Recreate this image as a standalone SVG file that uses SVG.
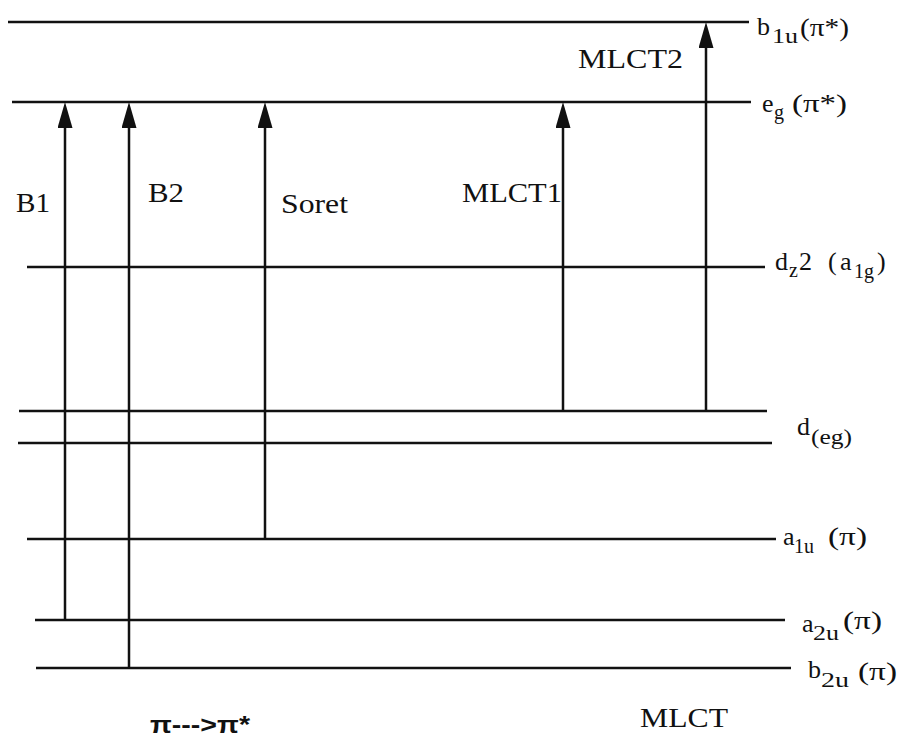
<svg xmlns="http://www.w3.org/2000/svg" width="901" height="740" viewBox="0 0 901 740">
<style>
.lvl{stroke:#111;stroke-width:2.7;fill:none}
.arr{stroke:#111;stroke-width:2.5;fill:none;marker-end:url(#ah)}
</style>
<defs>
<marker id="ah" viewBox="0 0 26 15" refX="10" refY="7.5" markerWidth="26" markerHeight="15" markerUnits="userSpaceOnUse" orient="auto">
<path d="M0,0 L26,7.5 L0,15 Z" fill="#111"/>
</marker>
</defs>
<rect width="901" height="740" fill="#fff"/>
<g font-family="Liberation Serif, Times New Roman, serif" fill="#111" font-size="26">
<g id="b1u">
<line class="lvl" x1="8" y1="22" x2="749" y2="22"/>
<text><tspan x="757" y="35">b</tspan><tspan font-size="20" x="772" y="43" textLength="26" lengthAdjust="spacingAndGlyphs">1u</tspan><tspan x="800" y="36" textLength="49" lengthAdjust="spacingAndGlyphs">(π*)</tspan></text>
</g>
<g id="eg">
<line class="lvl" x1="12" y1="102" x2="751" y2="102"/>
<text><tspan x="762" y="112">e</tspan><tspan font-size="20" x="774" y="119">g</tspan><tspan x="792" y="112" textLength="55" lengthAdjust="spacingAndGlyphs">(π*)</tspan></text>
</g>
<g id="dz2">
<line class="lvl" x1="27" y1="267" x2="765" y2="267"/>
<text><tspan x="775" y="270">d</tspan><tspan font-size="20" x="789" y="277">z</tspan><tspan x="799" y="270">2</tspan><tspan x="828" y="270">(</tspan><tspan x="840" y="270">a</tspan><tspan font-size="20" x="854" y="278" textLength="20" lengthAdjust="spacingAndGlyphs">1g</tspan><tspan x="877" y="270">)</tspan></text>
</g>
<g id="deg">
<line class="lvl" x1="19" y1="411" x2="767" y2="411"/>
<line class="lvl" x1="18" y1="443" x2="772" y2="443"/>
<text><tspan x="797" y="435">d</tspan><tspan font-size="20" x="811" y="444" textLength="41" lengthAdjust="spacingAndGlyphs">(eg)</tspan></text>
</g>
<g id="a1u">
<line class="lvl" x1="27" y1="539" x2="776" y2="539"/>
<text><tspan x="783" y="545">a</tspan><tspan font-size="20" x="794" y="553" textLength="20" lengthAdjust="spacingAndGlyphs">1u</tspan><tspan x="828" y="545" textLength="39" lengthAdjust="spacingAndGlyphs">(π)</tspan></text>
</g>
<g id="a2u">
<line class="lvl" x1="35" y1="620" x2="785" y2="620"/>
<text><tspan x="802" y="632">a</tspan><tspan font-size="20" x="813" y="640" textLength="26" lengthAdjust="spacingAndGlyphs">2u</tspan><tspan x="843" y="629" textLength="39" lengthAdjust="spacingAndGlyphs">(π)</tspan></text>
</g>
<g id="b2u">
<line class="lvl" x1="36" y1="668" x2="791" y2="668"/>
<text><tspan x="808" y="678">b</tspan><tspan font-size="20" x="821" y="687" textLength="28" lengthAdjust="spacingAndGlyphs">2u</tspan><tspan x="858" y="680" textLength="39" lengthAdjust="spacingAndGlyphs">(π)</tspan></text>
</g>

<g id="connectors">
<line class="arr" x1="65" y1="620" x2="65" y2="118"/>
<line class="arr" x1="129" y1="668" x2="129" y2="118"/>
<line class="arr" x1="265" y1="539" x2="265" y2="118"/>
<line class="arr" x1="563" y1="411" x2="563" y2="118"/>
<line class="arr" x1="706" y1="411" x2="706" y2="38"/>
</g>

<g id="labels" font-size="28">
<text x="16" y="212" textLength="34" lengthAdjust="spacingAndGlyphs">B1</text>
<text x="148" y="202" textLength="36" lengthAdjust="spacingAndGlyphs">B2</text>
<text x="281" y="213" textLength="67" lengthAdjust="spacingAndGlyphs">Soret</text>
<text x="462" y="202" textLength="100" lengthAdjust="spacingAndGlyphs">MLCT1</text>
<text x="578" y="68" textLength="105" lengthAdjust="spacingAndGlyphs">MLCT2</text>
<text x="640" y="727" textLength="88" lengthAdjust="spacingAndGlyphs">MLCT</text>
<text x="150" y="733" font-family="Liberation Sans, Arial, sans-serif" font-size="23" font-weight="bold" textLength="100" lengthAdjust="spacingAndGlyphs">π---&gt;π*</text>
</g>
</g>
</svg>
